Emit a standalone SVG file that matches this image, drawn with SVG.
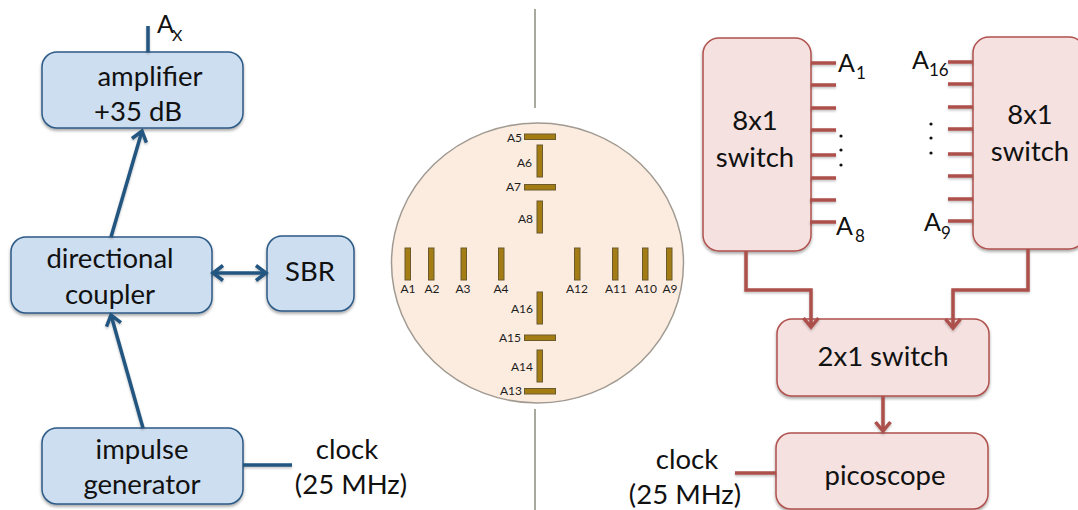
<svg xmlns="http://www.w3.org/2000/svg" width="1078" height="510" viewBox="0 0 1078 510">
<style>
text{font-family:Lato,"Liberation Sans",sans-serif;fill:#111}
.t{font-size:27.500px;text-anchor:middle}
.a{font-size:12px;fill:#1c1c1c}
.e{text-anchor:end}
.m{text-anchor:middle}
.blue{fill:#cddef0;stroke:#2c5a85;stroke-width:1.5}
.red{fill:#f4e1e0;stroke:#b0514d;stroke-width:1.5}
.bl{fill:none;stroke:#24557f;stroke-width:3.5}
.rl{fill:none;stroke:#ad4f4b;stroke-width:3.5}
.ant{fill:#a37c14;stroke:#6b5a2e;stroke-width:1}
.dot{fill:#111}
</style>
<defs>
<filter id="sh" x="-10%" y="-10%" width="125%" height="125%"><feDropShadow dx="0" dy="2" stdDeviation="1.500" flood-color="#000" flood-opacity="0.35"/></filter>
<filter id="ls" filterUnits="userSpaceOnUse" x="0" y="0" width="1078" height="510"><feDropShadow dx="0" dy="1.500" stdDeviation="1" flood-color="#000" flood-opacity="0.25"/></filter>
<marker id="ab" markerUnits="userSpaceOnUse" markerWidth="24" markerHeight="24" refX="15" refY="10" orient="auto-start-reverse" viewBox="0 0 24 24"><path d="M5 2.500L15 10L5 17.500" fill="none" stroke="#24557f" stroke-width="3.500"/></marker>
<marker id="ar" markerUnits="userSpaceOnUse" markerWidth="24" markerHeight="24" refX="15" refY="10" orient="auto" viewBox="0 0 24 24"><path d="M6 2.500L15 10L6 17.500" fill="none" stroke="#ad4f4b" stroke-width="3.500"/></marker>
</defs>

<g id="divider" stroke="#6e7060" stroke-width="1.200"><line x1="535" y1="9" x2="535" y2="108"/><line x1="535" y1="409" x2="535" y2="510"/></g>

<g id="amplifier"><rect class="blue" filter="url(#sh)" x="42" y="52" width="201" height="76" rx="15"/><text class="t" x="150" y="85.500">amplifier</text><text class="t" x="138" y="120.500">+35 dB</text></g>
<g id="ax-label"><text x="157" y="33" font-size="25">A</text><text x="172" y="41" font-size="16">X</text></g>
<g id="coupler"><rect class="blue" filter="url(#sh)" x="11" y="237" width="201" height="76" rx="15"/><text class="t" x="110" y="268">directional</text><text class="t" x="110" y="303.500">coupler</text></g>
<g id="sbr"><rect class="blue" filter="url(#sh)" x="267" y="236" width="87" height="75" rx="15"/><text class="t" x="310" y="281">SBR</text></g>
<g id="impulse"><rect class="blue" filter="url(#sh)" x="42" y="428" width="201" height="76" rx="15"/><text class="t" x="142" y="459">impulse</text><text class="t" x="142" y="494">generator</text></g>
<g id="clock-left"><text class="t" x="347" y="459">clock</text><text class="t" x="351" y="494">(25 MHz)</text></g>

<g id="array">
<ellipse cx="537.500" cy="263" rx="146" ry="140" fill="#fcecdf" stroke="#a09a92" stroke-width="1.500"/>
<rect class="ant" x="524.500" y="134" width="31" height="5.500"/>
<rect class="ant" x="524.500" y="184.500" width="31" height="5.500"/>
<rect class="ant" x="524.500" y="335" width="31" height="5.500"/>
<rect class="ant" x="524.500" y="388.500" width="31" height="5.500"/>
<rect class="ant" x="537" y="145" width="5.500" height="32"/>
<rect class="ant" x="537" y="201" width="5.500" height="32"/>
<rect class="ant" x="537" y="292" width="5.500" height="32"/>
<rect class="ant" x="537" y="350" width="5.500" height="32"/>
<rect class="ant" x="405" y="248" width="5.500" height="32"/>
<rect class="ant" x="428.500" y="248" width="5.500" height="32"/>
<rect class="ant" x="461" y="248" width="5.500" height="32"/>
<rect class="ant" x="498.500" y="248" width="5.500" height="32"/>
<rect class="ant" x="574.500" y="248" width="5.500" height="32"/>
<rect class="ant" x="612.500" y="248" width="5.500" height="32"/>
<rect class="ant" x="642.500" y="248" width="5.500" height="32"/>
<rect class="ant" x="666.500" y="248" width="5.500" height="32"/>
<text class="a e" x="522" y="142">A5</text>
<text class="a e" x="532" y="167">A6</text>
<text class="a e" x="521" y="191">A7</text>
<text class="a e" x="533" y="223">A8</text>
<text class="a m" x="408" y="293">A1</text>
<text class="a m" x="432" y="293">A2</text>
<text class="a m" x="463" y="293">A3</text>
<text class="a m" x="501" y="293">A4</text>
<text class="a m" x="577" y="293">A12</text>
<text class="a m" x="616" y="293">A11</text>
<text class="a m" x="646" y="293">A10</text>
<text class="a m" x="670" y="293">A9</text>
<text class="a e" x="533" y="313">A16</text>
<text class="a e" x="521" y="342">A15</text>
<text class="a e" x="533" y="371">A14</text>
<text class="a e" x="522" y="395">A13</text>
</g>

<g id="switch-left"><rect class="red" filter="url(#sh)" x="703" y="38" width="108" height="213" rx="16"/><text class="t" x="755" y="130">8x1</text><text class="t" x="755" y="167">switch</text></g>
<g id="switch-right"><rect class="red" filter="url(#sh)" x="973" y="37" width="112" height="212" rx="16"/><text class="t" x="1030" y="124">8x1</text><text class="t" x="1030" y="161">switch</text></g>
<g id="switch-2x1"><rect class="red" filter="url(#sh)" x="777" y="319" width="212" height="77" rx="15"/><text class="t" x="883" y="366">2x1 switch</text></g>
<g id="picoscope"><rect class="red" filter="url(#sh)" x="776" y="433" width="212" height="76" rx="15"/><text class="t" x="885" y="485">picoscope</text></g>
<g id="clock-right"><text class="t" x="687" y="469">clock</text><text class="t" x="685" y="504">(25 MHz)</text></g>

<g id="connectors" filter="url(#ls)">
<path class="bl" d="M148 26V52"/>
<path class="bl" d="M111 237L142 131" marker-end="url(#ab)"/>
<path class="bl" d="M143 428L111 315" marker-end="url(#ab)"/>
<path class="bl" d="M213 273H266" marker-start="url(#ab)" marker-end="url(#ab)"/>
<path class="bl" d="M243 465H292"/>
<path class="rl" d="M746 251V290H811V327" marker-end="url(#ar)"/>
<path class="rl" d="M1028 249V290H953V328" marker-end="url(#ar)"/>
<path class="rl" d="M883 396V431" marker-end="url(#ar)"/>
<path class="rl" d="M735 473H776"/>
<path class="rl" d="M811 63H836M811 85H836M811 108H836M811 130H836M811 155H836M811 178H836M810 200H836M810 222H836"/>
<path class="rl" d="M948 62H973M948 84H973M948 107H973M948 129H973M948 154H973M948 176H973M948 199H973M948 221H973"/>
</g>

<g id="port-labels">
<text x="838" y="72" font-size="25">A</text><text x="856" y="79" font-size="17">1</text>
<text x="836" y="235" font-size="25">A</text><text x="855" y="242" font-size="17">8</text>
<text x="912" y="69" font-size="25">A</text><text x="929" y="76" font-size="17">16</text>
<text x="924" y="231" font-size="25">A</text><text x="941" y="239" font-size="17">9</text>
</g>
<g id="dots">
<circle class="dot" cx="841" cy="136" r="1.600"/><circle class="dot" cx="841" cy="150" r="1.600"/><circle class="dot" cx="841" cy="165" r="1.600"/>
<circle class="dot" cx="931" cy="124" r="1.600"/><circle class="dot" cx="931" cy="138" r="1.600"/><circle class="dot" cx="931" cy="153" r="1.600"/>
</g>
</svg>
